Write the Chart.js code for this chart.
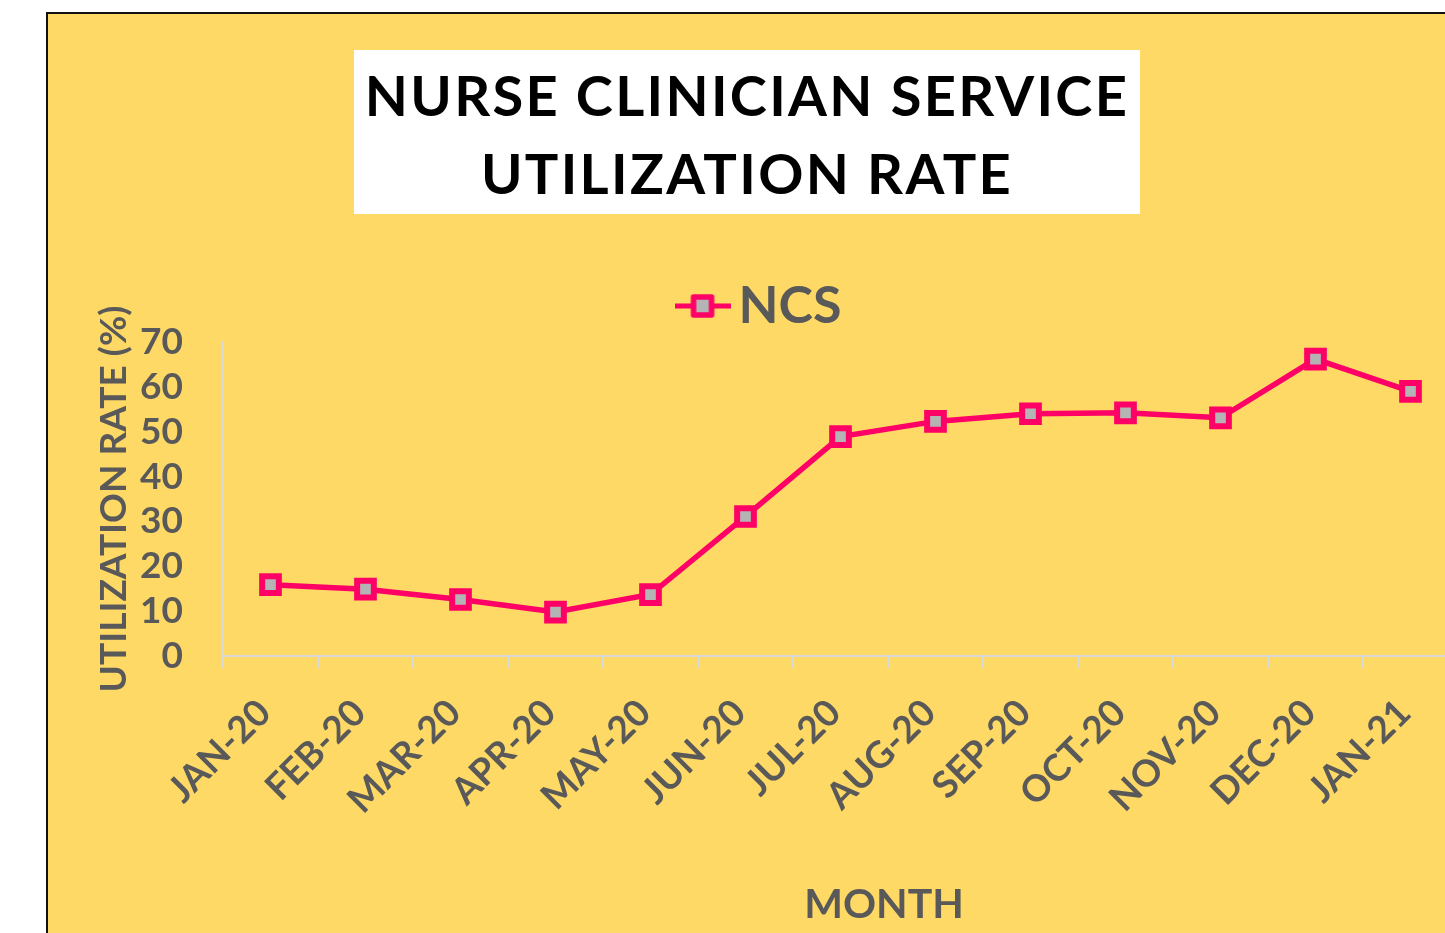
<!DOCTYPE html>
<html>
<head>
<meta charset="utf-8">
<script src="https://cdn.jsdelivr.net/npm/chart.js@4/dist/chart.umd.min.js"></script>
<style>
  html, body { margin: 0; padding: 0; width: 1445px; height: 933px; overflow: hidden; background: #ffffff; }
  #frame { position: absolute; left: 46px; top: 12px; width: 1500px; height: 1000px; background: #FFD966; border-left: 2px solid #111; border-top: 2px solid #111; }
  #chartWrap { position: absolute; left: 0; top: 0; width: 1500px; height: 933px; }
  #titleBox { position: absolute; left: 354px; top: 50px; width: 786px; height: 164px; background: #ffffff; text-align: center;
    font-family: Lato, "Open Sans", sans-serif; font-weight: 700; font-size: 56px; line-height: 78px; color: #000; letter-spacing: 2.3px; padding-top: 6px; box-sizing: border-box; }
  #xTitle { position: absolute; left: 734px; width: 300px; top: 878px; height: 50px; line-height: 50px; text-align: center;
    font-family: Lato, "Open Sans", sans-serif; font-weight: 700; font-size: 41px; color: #595959; }
</style>
</head>
<body>
<div id="frame"></div>
<div id="chartWrap"><canvas id="c" width="1500" height="933"></canvas></div>
<div id="titleBox">NURSE CLINICIAN SERVICE<br>UTILIZATION RATE</div>
<div id="xTitle"></div>
<script>
const categories = ["JAN-20","FEB-20","MAR-20","APR-20","MAY-20","JUN-20","JUL-20","AUG-20","SEP-20","OCT-20","NOV-20","DEC-20","JAN-21"];
const ncsValues = [15.9, 14.9, 12.6, 9.8, 13.7, 31.1, 48.9, 52.3, 54.0, 54.2, 53.1, 66.2, 59.0];
const yTicks = [0, 10, 20, 30, 40, 50, 60, 70];
const seriesName = "NCS";
const yAxisTitle = "UTILIZATION RATE (%)";
const xAxisTitle = "MONTH";

document.getElementById("xTitle").textContent = xAxisTitle;

const PINK = "#FF0066";
const GRAY = "#B4B4B4";
const TEXT = "#595959";
const AXIS = "#D9D9D9";
const FONT = "Lato, 'Open Sans', sans-serif";

// legend marker image: line with square marker
const legendImg = document.createElement("canvas");
legendImg.width = 56; legendImg.height = 26;
(function(){
  const g = legendImg.getContext("2d");
  g.strokeStyle = PINK; g.lineWidth = 5;
  g.beginPath(); g.moveTo(0, 13); g.lineTo(56, 13); g.stroke();
  g.fillStyle = GRAY; g.fillRect(19, 4, 18, 18);
  g.lineJoin = "round"; g.lineWidth = 5.5;
  g.strokeRect(19, 4, 18, 18);
})();

new Chart(document.getElementById("c"), {
  type: "line",
  data: {
    labels: categories,
    datasets: [{
      label: seriesName,
      data: ncsValues,
      borderColor: PINK,
      borderWidth: 5.5,
      backgroundColor: GRAY,
      pointStyle: "rect",
      pointRadius: 11.8,
      pointHoverRadius: 11.8,
      pointBorderWidth: 6,
      pointBorderColor: PINK,
      pointBackgroundColor: GRAY,
      tension: 0,
      fill: false
    }]
  },
  options: {
    responsive: false,
    animation: false,
    devicePixelRatio: 1,
    layout: { padding: { left: 76, right: 42, top: 270, bottom: 5 } },
    plugins: {
      tooltip: { enabled: false },
      title: { display: false },
      legend: {
        display: true,
        position: "top",
        labels: {
          usePointStyle: true,
          pointStyle: legendImg,
          pointStyleWidth: 20,
          padding: 10,
          color: TEXT,
          font: { family: FONT, size: 52, weight: "bold" }
        }
      }
    },
    scales: {
      x: {
        offset: true,
        grid: { display: true, offset: true, drawOnChartArea: false, drawTicks: true, tickLength: 12, color: AXIS, lineWidth: 2 },
        border: { display: true, color: AXIS, width: 2 },
        ticks: {
          autoSkip: false, minRotation: 45, maxRotation: 45, padding: 23, labelOffset: -6,
          color: TEXT, font: { family: FONT, size: 37, weight: "bold" }
        },
        title: { display: false, text: xAxisTitle },
        afterFit: (s) => { s.height = 272; }
      },
      y: {
        min: 0, max: 70,
        afterBuildTicks: (s) => { s.ticks = yTicks.map(v => ({ value: v })); },
        grid: { display: false, drawTicks: false },
        border: { display: true, color: AXIS, width: 2 },
        ticks: { autoSkip: false, stepSize: 10, padding: 40, color: TEXT, font: { family: FONT, size: 37, weight: "bold" } },
        title: { display: true, text: yAxisTitle, color: TEXT, padding: { top: 16, bottom: 0 }, font: { family: FONT, size: 37, weight: "bold" } },
        afterFit: (s) => { s.width = 147; }
      }
    }
  }
});
</script>
</body>
</html>
